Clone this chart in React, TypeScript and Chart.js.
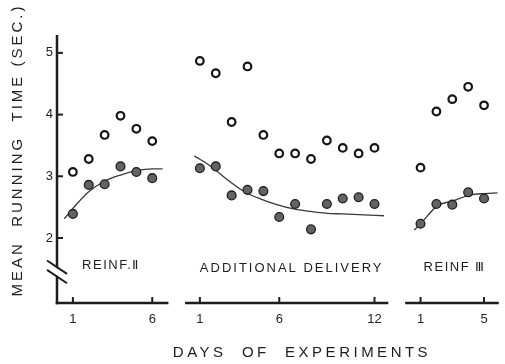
import { useEffect, useRef } from 'react';
import { Chart, registerables } from 'chart.js';

Chart.register(...registerables);

// ---- data ----
const Y_TICKS = [2, 3, 4, 5];

const P1_DAYS = [1, 2, 3, 4, 5, 6];
const P1_OPEN = [3.07, 3.28, 3.67, 3.98, 3.77, 3.57];
const P1_FILLED = [2.39, 2.86, 2.87, 3.16, 3.07, 2.97];
const P1_CURVE_DAYS = [0.45, 1, 2, 3, 4, 5, 6, 6.65];
const P1_CURVE = [2.31, 2.48, 2.75, 2.92, 3.02, 3.09, 3.12, 3.12];
const P1_TICKS = [1, 6];

const P2_DAYS = [1, 2, 3, 4, 5, 6, 7, 8, 9, 10, 11, 12];
const P2_OPEN = [4.87, 4.67, 3.88, 4.78, 3.67, 3.37, 3.37, 3.28, 3.58, 3.46, 3.37, 3.46];
const P2_FILLED = [3.13, 3.16, 2.69, 2.78, 2.76, 2.34, 2.55, 2.14, 2.55, 2.64, 2.66, 2.55];
const P2_CURVE_DAYS = [0.65, 1.7, 2.75, 3.8, 4.85, 5.85, 6.9, 7.95, 9, 10, 11, 12.6];
const P2_CURVE = [3.33, 3.16, 2.94, 2.75, 2.63, 2.54, 2.47, 2.43, 2.4, 2.39, 2.38, 2.36];
const P2_TICKS = [1, 6, 12];

const P3_DAYS = [1, 2, 3, 4, 5];
const P3_OPEN = [3.14, 4.05, 4.25, 4.45, 4.15];
const P3_FILLED = [2.23, 2.55, 2.54, 2.74, 2.64];
const P3_CURVE_DAYS = [0.6, 1, 2.05, 3.05, 4.15, 5.05, 5.85];
const P3_CURVE = [2.13, 2.23, 2.52, 2.6, 2.7, 2.72, 2.73];
const P3_TICKS = [1, 5];

const PANEL_LABELS = ['REINF.\u2161', 'ADDITIONAL DELIVERY', 'REINF \u2162'];
const X_TITLE = 'DAYS  OF  EXPERIMENTS';
const Y_TITLE = 'MEAN  RUNNING  TIME (SEC.)';

// ---- layout ----
const OFFSETS = [0, 8, 21.9];
const X_MAX = 27.83;
const Y_MIN = 0.946;
const Y_MAX = 5.29;
const BREAK_AT = 1.45;

const FONT = '"Liberation Sans", Arial, Helvetica, sans-serif';
const INK = '#1d1d1d';

function pts(days: number[], vals: number[], off: number) {
  return days.map((d, i) => ({ x: d + off, y: vals[i] }));
}

export default function App() {
  const ref = useRef<HTMLCanvasElement>(null);

  useEffect(() => {
    const panels = [
      { off: OFFSETS[0], start: 0, end: 7.02, ticks: P1_TICKS, label: PANEL_LABELS[0], lx: 3.35, ly: 1.56, ls: 1.5 },
      { off: OFFSETS[1], start: 0.07, end: 12.87, ticks: P2_TICKS, label: PANEL_LABELS[1], lx: 6.72, ly: 1.51, ls: 2 },
      { off: OFFSETS[2], start: 0.03, end: X_MAX - OFFSETS[2], ticks: P3_TICKS, label: PANEL_LABELS[2], lx: 3.1, ly: 1.53, ls: 1.5 },
    ];

    const axesPlugin = {
      id: 'panelAxes',
      beforeDatasetsDraw(chart: any) {
        const { ctx, chartArea } = chart;
        const xs = chart.scales.x;
        const ys = chart.scales.y;
        const x0 = chartArea.left;
        const base = ys.getPixelForValue(Y_MIN);
        const top = ys.getPixelForValue(Y_MAX);
        ctx.save();
        ctx.strokeStyle = INK;
        ctx.fillStyle = INK;
        ctx.lineCap = 'butt';

        // y axis
        ctx.lineWidth = 2.5;
        ctx.beginPath();
        ctx.moveTo(x0, top);
        ctx.lineTo(x0, base + 1.2);
        ctx.stroke();
        // y ticks (inward)
        ctx.lineWidth = 2;
        Y_TICKS.forEach((v) => {
          const py = ys.getPixelForValue(v);
          ctx.beginPath();
          ctx.moveTo(x0, py);
          ctx.lineTo(x0 + 6, py);
          ctx.stroke();
        });
        // y tick labels
        ctx.font = `13px ${FONT}`;
        ctx.textAlign = 'right';
        ctx.textBaseline = 'middle';
        Y_TICKS.forEach((v) => {
          ctx.fillText(String(v), x0 - 4, ys.getPixelForValue(v));
        });

        // axis break
        const by = ys.getPixelForValue(BREAK_AT);
        const dx = 10;
        const slope = 0.667;
        const gap = 4.7;
        ctx.fillStyle = '#fff';
        ctx.beginPath();
        ctx.moveTo(x0 - dx, by - gap - dx * slope + 1);
        ctx.lineTo(x0 + dx, by - gap + dx * slope + 1);
        ctx.lineTo(x0 + dx, by + gap + dx * slope - 1);
        ctx.lineTo(x0 - dx, by + gap - dx * slope - 1);
        ctx.closePath();
        ctx.fill();
        ctx.fillStyle = INK;
        ctx.lineWidth = 2;
        [-gap, gap].forEach((g) => {
          ctx.beginPath();
          ctx.moveTo(x0 - dx, by + g - dx * slope);
          ctx.lineTo(x0 + dx, by + g + dx * slope);
          ctx.stroke();
        });

        // x baselines, ticks, labels, panel labels
        panels.forEach((p) => {
          const a = xs.getPixelForValue(p.start + p.off);
          const b = xs.getPixelForValue(p.end + p.off);
          ctx.lineWidth = 2.5;
          ctx.beginPath();
          ctx.moveTo(p.start === 0 ? a - 1.25 : a, base);
          ctx.lineTo(b, base);
          ctx.stroke();
          ctx.lineWidth = 2;
          ctx.font = `13px ${FONT}`;
          ctx.textAlign = 'center';
          ctx.textBaseline = 'middle';
          p.ticks.forEach((t) => {
            const px = xs.getPixelForValue(t + p.off);
            ctx.beginPath();
            ctx.moveTo(px, base);
            ctx.lineTo(px, base - 6);
            ctx.stroke();
            ctx.fillText(String(t), px, base + 16);
          });
          (ctx as any).letterSpacing = `${p.ls}px`;
          ctx.font = `13px ${FONT}`;
          ctx.fillText(p.label, xs.getPixelForValue(p.lx + p.off) + p.ls / 2, ys.getPixelForValue(p.ly));
          (ctx as any).letterSpacing = '0px';
        });

        // x title
        (ctx as any).letterSpacing = '3.5px';
        ctx.font = `15px ${FONT}`;
        ctx.textAlign = 'center';
        ctx.textBaseline = 'middle';
        ctx.fillText(X_TITLE, 302, base + 50);
        // y title
        ctx.translate(17.5, 150);
        ctx.rotate(-Math.PI / 2);
        ctx.font = `15px ${FONT}`;
        (ctx as any).letterSpacing = '3px';
        ctx.fillText(Y_TITLE, 0, 0);
        (ctx as any).letterSpacing = '0px';
        ctx.restore();
      },
    };

    const curve = (d: number[], v: number[], off: number) => ({
      data: pts(d, v, off),
      showLine: true,
      pointRadius: 0,
      borderColor: '#3a3a3a',
      borderWidth: 1.3,
      cubicInterpolationMode: 'monotone' as const,
      fill: false,
      order: 2,
    });
    const open = (d: number[], v: number[], off: number) => ({
      data: pts(d, v, off),
      showLine: false,
      pointRadius: 3.8,
      pointBackgroundColor: '#ffffff',
      pointBorderColor: '#151515',
      pointBorderWidth: 2.2,
      order: 0,
    });
    const filled = (d: number[], v: number[], off: number) => ({
      data: pts(d, v, off),
      showLine: false,
      pointRadius: 4.4,
      pointBackgroundColor: '#636363',
      pointBorderColor: '#1e1e1e',
      pointBorderWidth: 1.3,
      order: 1,
    });

    const chart = new Chart(ref.current as HTMLCanvasElement, {
      type: 'scatter',
      data: {
        datasets: [
          curve(P1_CURVE_DAYS, P1_CURVE, OFFSETS[0]),
          curve(P2_CURVE_DAYS, P2_CURVE, OFFSETS[1]),
          curve(P3_CURVE_DAYS, P3_CURVE, OFFSETS[2]),
          filled(P1_DAYS, P1_FILLED, OFFSETS[0]),
          filled(P2_DAYS, P2_FILLED, OFFSETS[1]),
          filled(P3_DAYS, P3_FILLED, OFFSETS[2]),
          open(P1_DAYS, P1_OPEN, OFFSETS[0]),
          open(P2_DAYS, P2_OPEN, OFFSETS[1]),
          open(P3_DAYS, P3_OPEN, OFFSETS[2]),
        ] as any,
      },
      options: {
        animation: false,
        responsive: true,
        maintainAspectRatio: false,
        devicePixelRatio: 1,
        layout: { padding: { left: 57, right: 0, top: 35, bottom: 61 } },
        scales: {
          x: { type: 'linear', min: 0, max: X_MAX, display: false },
          y: { type: 'linear', min: Y_MIN, max: Y_MAX, display: false },
        },
        plugins: { legend: { display: false }, tooltip: { enabled: false } },
        events: [],
      },
      plugins: [axesPlugin],
    });
    return () => chart.destroy();
  }, []);

  return (
    <div style={{ position: 'fixed', left: 0, top: 0, width: 505, height: 364, background: '#fff' }}>
      <canvas ref={ref} />
    </div>
  );
}
